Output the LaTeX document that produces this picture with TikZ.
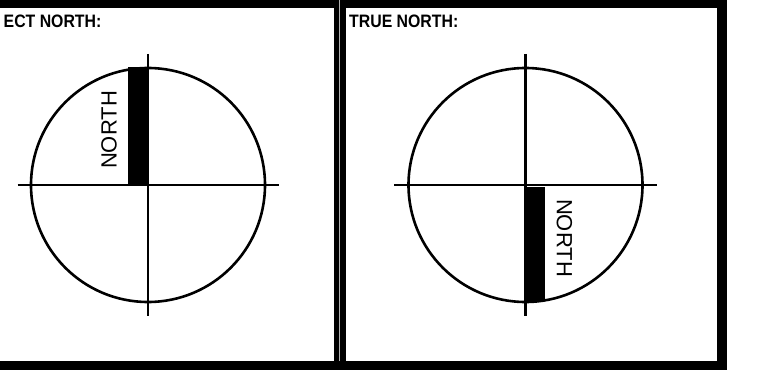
\documentclass[tikz,border=0pt]{standalone}
\usepackage{fontspec}
\setmainfont{Liberation Sans}
\usepackage{tikz}

\begin{document}
\begin{tikzpicture}[x=10pt,y=10pt,
  ring/.style={circle, draw, line width=2.6pt, minimum size=234pt, inner sep=0pt},
  axis/.style={line width=2.2pt},
  needle/.style={fill=black},
  lab/.style={font=\fontsize{22}{22}\selectfont, inner sep=0pt},
  title/.style={font=\fontsize{18}{18}\selectfont\bfseries, inner sep=0pt, anchor=base west}]
\useasboundingbox (0,0) rectangle (76.2,37);
%%%%%%%%%%%%%%%%%%%%%%%%%%%%%%%%%%%%%%%%%%%%%%%%%%
% frame
%%%%%%%%%%%%%%%%%%%%%%%%%%%%%%%%%%%%%%%%%%%%%%%%%%
\fill[black] (0,0) rectangle (72.7,37);
\fill[white] (0,0.9) rectangle (33.4,36.2);
\fill[white] (34.6,0.9) rectangle (71.7,36.2);
\draw[gray!60, line width=0.8pt] (33.95,0.9) -- (33.95,37);
%%%%%%%%%%%%%%%%%%%%%%%%%%%%%%%%%%%%%%%%%%%%%%%%%%
% (a) wrong
%%%%%%%%%%%%%%%%%%%%%%%%%%%%%%%%%%%%%%%%%%%%%%%%%%
\node[title] (ta) at (0.35,34.2) {\scalebox{0.88}[1]{ECT NORTH:}};
\begin{scope}[shift={(14.8,18.5)}]
  \node[ring] (c) at (0,0) {};
  \coordinate (n) at (0,13.1);
  \coordinate (s) at (0,-13.05);
  \coordinate (w) at (-13.05,0);
  \coordinate (e) at (13.05,0);

  \draw[axis] (n)--(s);
  \draw[axis] (w)--(e);
  \fill[needle] (-2.0,0) rectangle (0,11.8);

  \node[lab, rotate=90] (t) at (-3.9,5.5) {NORTH};
\end{scope}
%%%%%%%%%%%%%%%%%%%%%%%%%%%%%%%%%%%%%%%%%%%%%%%%%%
% (b) true
%%%%%%%%%%%%%%%%%%%%%%%%%%%%%%%%%%%%%%%%%%%%%%%%%%
\node[title] (tb) at (34.9,34.2) {\scalebox{0.88}[1]{TRUE NORTH:}};
\begin{scope}[shift={(52.55,18.5)}]
  \node[ring] (c) at (0,0) {};
  \coordinate (n) at (0,13.1);
  \coordinate (s) at (0,-13.05);
  \coordinate (w) at (-13.15,0);
  \coordinate (e) at (13.15,0);

  \draw[axis] (n)--(s);
  \draw[axis] (w)--(e);
  \begin{scope}
    \clip (0,0) circle (11.75);
    \fill[needle] (-0.05,-0.15) rectangle (1.95,-12);
  \end{scope}

  \node[lab, rotate=-90] (t) at (3.9,-5.3) {NORTH};
\end{scope}
\end{tikzpicture}
\end{document}
